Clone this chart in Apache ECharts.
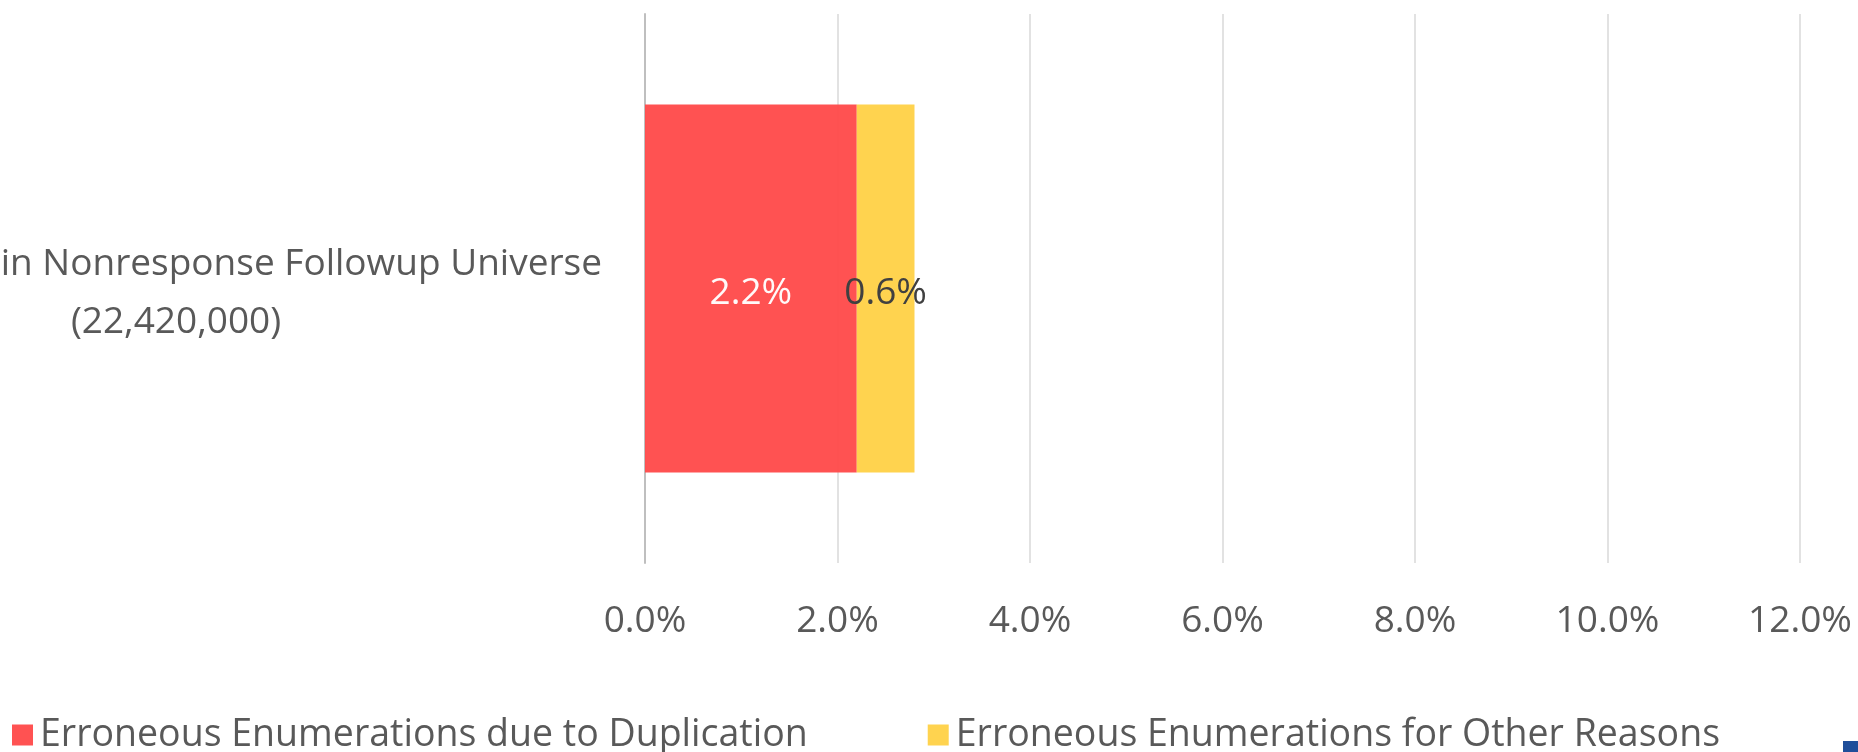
<!DOCTYPE html>
<html>
<head>
<meta charset="utf-8">
<script src="https://cdn.jsdelivr.net/npm/echarts@6/dist/echarts.min.js"></script>
<style>
  html, body { margin: 0; padding: 0; background: #fff; }
  #myChart { width: 1858px; height: 752px; }
</style>
</head>
<body>
<div id="myChart"></div>
<script>
  // 数据
  var categories = ['in Nonresponse Followup Universe'];
  var categoryCounts = ['(22,420,000)'];
  var seriesNames = ['Erroneous Enumerations due to Duplication', 'Erroneous Enumerations for Other Reasons'];
  var duplication = [2.2];
  var otherReasons = [0.6];
  var xTicks = [0, 2, 4, 6, 8, 10, 12];

  var labelFont = '"Open Sans", "Noto Sans", sans-serif';

  let myChart = echarts.init(document.getElementById('myChart'));

  myChart.setOption({
    backgroundColor: '#fff',
    textStyle: { fontFamily: labelFont },
    legend: {
      left: 12,
      top: 716,
      padding: 0,
      itemWidth: 21,
      itemHeight: 21,
      itemGap: 120,
      icon: 'rect',
      textStyle: { fontSize: 37.5, color: '#595959', fontFamily: labelFont, padding: [0, 0, 0, 2] },
      data: seriesNames
    },
    grid: {
      left: 645,
      right: 58,
      top: 14,
      bottom: 189,
      outerBoundsMode: 'none'
    },
    xAxis: {
      type: 'value',
      min: xTicks[0],
      max: xTicks[xTicks.length - 1],
      interval: xTicks[1] - xTicks[0],
      axisLine: { show: false },
      axisTick: { show: false },
      splitLine: { lineStyle: { color: '#d9d9d9', width: 1.5 } },
      axisLabel: {
        margin: 40,
        fontSize: 37,
        color: '#595959',
        fontFamily: labelFont,
        formatter: function (v) { return v.toFixed(1) + '%'; }
      }
    },
    yAxis: {
      type: 'category',
      data: categories,
      axisLine: { show: true, lineStyle: { color: '#bfbfbf', width: 2 } },
      axisTick: { show: false },
      axisLabel: {
        margin: 43,
        align: 'right',
        padding: [10, 0, 0, 0],
        formatter: function (v, i) { return '{a|' + v + '}\n{b|' + categoryCounts[i] + '}'; },
        rich: {
          a: { fontSize: 37, color: '#595959', fontFamily: labelFont, align: 'right', lineHeight: 58 },
          b: { fontSize: 37, color: '#595959', fontFamily: labelFont, align: 'center', width: 852, lineHeight: 58 }
        }
      }
    },
    series: [{
      name: seriesNames[0],
      type: 'bar',
      stack: 'total',
      barWidth: '67%',
      data: duplication,
      itemStyle: { color: '#ff4c4c', opacity: 0.97 },
      label: {
        show: true,
        position: 'inside',
        offset: [0, 5],
        fontSize: 37,
        color: '#fff',
        fontFamily: labelFont,
        formatter: function (p) { return p.value.toFixed(1) + '%'; }
      }
    }, {
      name: seriesNames[1],
      type: 'bar',
      stack: 'total',
      data: otherReasons,
      itemStyle: { color: '#ffd34f' },
      label: {
        show: true,
        position: 'inside',
        offset: [0, 5],
        fontSize: 37,
        color: '#404040',
        fontFamily: labelFont,
        formatter: function (p) { return p.value.toFixed(1) + '%'; }
      }
    }],
    graphic: [{
      type: 'rect',
      left: 1843,
      top: 741,
      shape: { width: 15, height: 11 },
      style: { fill: '#1f4e9a' }
    }]
  });
</script>
</body>
</html>
